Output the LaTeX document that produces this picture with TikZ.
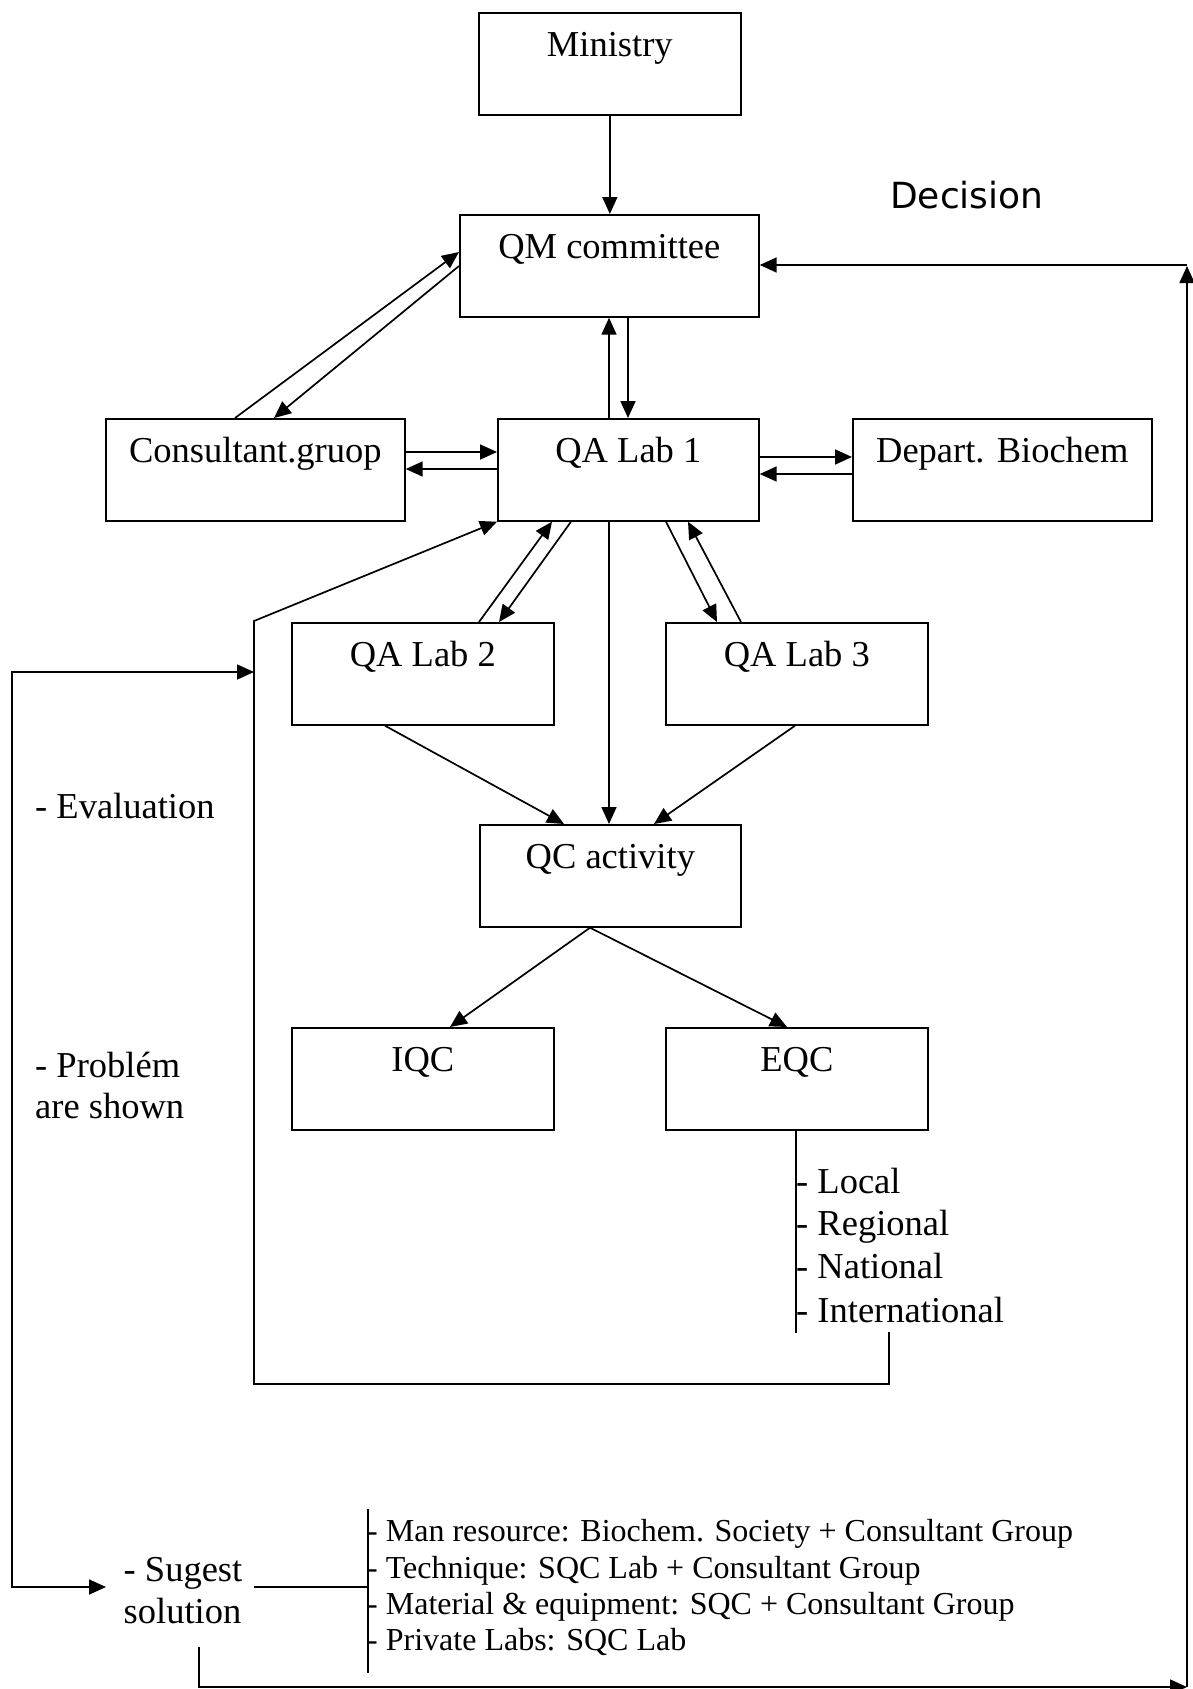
\documentclass[tikz,border=0pt]{standalone}
\usepackage{fontspec}
\setmainfont{Liberation Serif}
\newfontfamily\dejavu{DejaVu Sans}
\usetikzlibrary{arrows.meta,calc}
\begin{document}
\begin{tikzpicture}[x=1pt,y=-1pt,
  every node/.style={font=\fontsize{36.5}{43}\selectfont},
  bx/.style={draw, line width=1.7pt, anchor=north west, minimum width=#1,
    inner xsep=0pt, inner ysep=0pt, text height=44pt, text depth=58pt},
  arr/.style={line width=1.7pt, -{Triangle[length=17pt,width=15pt]}},
  arrb/.style={line width=1.7pt, {Triangle[length=17pt,width=15pt]}-{Triangle[length=17pt,width=15pt]}},
  ln/.style={line width=1.7pt},
  txt/.style={anchor=base west, inner sep=0pt},
  small/.style={font=\fontsize{32}{38}\selectfont}]
\useasboundingbox (0,0) rectangle (1192,1689);

% boxes
\node[bx=262pt] (min)  at (478,12)   {Ministry};
\node[bx=299pt] (qm)   at (459,214)  {QM committee};
\node[bx=299pt] (cons) at (105,418)  {Consultant.gruop};
\node[bx=261pt] (qa1)  at (497,418)  {QA Lab 1};
\node[bx=299pt] (dep)  at (852,418)  {Depart. Biochem};
\node[bx=262pt] (qa2)  at (291,622)  {QA Lab 2};
\node[bx=262pt] (qa3)  at (665,622)  {QA Lab 3};
\node[bx=261pt] (qc)   at (479,824)  {QC activity};
\node[bx=262pt] (iqc)  at (291,1027) {IQC};
\node[bx=262pt] (eqc)  at (665,1027) {EQC};

% free texts
\node[txt, font=\dejavu\fontsize{36}{43}\selectfont] (dec) at (890,208) {Decision};
\node[txt] (ev)  at (35,818)  {- Evaluation};
\node[txt] (pr1) at (35,1077) {- Problém};
\node[txt] (pr2) at (35,1118) {are shown};
\node[txt] (lv1) at (796,1193) {- Local};
\node[txt] (lv2) at (796,1235) {- Regional};
\node[txt] (lv3) at (796,1278) {- National};
\node[txt] (lv4) at (796,1322) {- International};
\node[txt] (sg1) at (123.5,1581) {- Sugest};
\node[txt] (sg2) at (123.5,1623) {solution};
\node[txt, small] (it1) at (367,1541) {- Man resource: Biochem. Society + Consultant Group};
\node[txt, small] (it2) at (367,1578) {- Technique: SQC Lab + Consultant Group};
\node[txt, small] (it3) at (367,1614) {- Material \& equipment: SQC + Consultant Group};
\node[txt, small] (it4) at (367,1650.5) {- Private Labs: SQC Lab};

% coordinates for free ends
\coordinate (eqT)  at (796,1333);
\coordinate (lpA)  at (889,1332);
\coordinate (lpA2) at (889,1384);
\coordinate (lpA3) at (254,1384);
\coordinate (lpB)  at (254,621);
\coordinate (lpC)  at (254,672);
\coordinate (olA)  at (11.7,672);
\coordinate (olB)  at (11.7,1587);
\coordinate (sugin) at (106,1587);
\coordinate (sgR)  at (254,1587);
\coordinate (brM)  at (368,1587);
\coordinate (brT)  at (368,1509);
\coordinate (brB)  at (368,1673);
\coordinate (solB) at (199,1647);
\coordinate (brc)  at (1187,1687);
\coordinate (trc)  at (1187,266);
\coordinate (trh)  at (1187,265);

% connectors
\draw[arr] (min.south) -- (min.south |- qm.north);
\draw[arr] ($(qa1.north west)+(112,0)$) -- ($(qm.south west)+(150,0)$);
\draw[arr] ($(qm.south west)+(169,0)$) -- ($(qa1.north west)+(131,0)$);
\draw[arr] ($(cons.north west)+(130,0)$) -- ($(qm.north west)+(0,38)$);
\draw[arr] ($(qm.north west)+(0,52)$) -- ($(cons.north west)+(169,0)$);
\draw[arr] ($(cons.north east)+(0,34)$) -- ($(qa1.north west)+(0,34)$);
\draw[arr] ($(qa1.north west)+(0,51)$) -- ($(cons.north east)+(0,51)$);
\draw[arr] ($(qa1.north east)+(0,39)$) -- ($(dep.north west)+(0,39)$);
\draw[arr] ($(dep.north west)+(0,56)$) -- ($(qa1.north east)+(0,56)$);
\draw[arr] ($(qa2.north west)+(188,0)$) -- ($(qa1.south west)+(55,0)$);
\draw[arr] ($(qa1.south west)+(74,0)$) -- ($(qa2.north west)+(208,0)$);
\draw[arr] ($(qa1.south west)+(169,0)$) -- ($(qa3.north west)+(52,0)$);
\draw[arr] ($(qa3.north west)+(76,0)$) -- ($(qa1.south west)+(191,0)$);
\draw[arr] ($(qa1.south west)+(112,0)$) -- ($(qc.north west)+(130,0)$);
\draw[arr] ($(qa2.south west)+(94,0)$) -- ($(qc.north west)+(85,0)$);
\draw[arr] ($(qa3.south west)+(130,0)$) -- ($(qc.north west)+(175,0)$);
\draw[arr] ($(qc.south west)+(111,0)$) -- ($(iqc.north west)+(159,0)$);
\draw[arr] ($(qc.south west)+(111,0)$) -- ($(eqc.north west)+(122,0)$);
\draw[ln] ($(eqc.south west)+(131,0)$) -- (eqT);
\draw[arr] (lpA) -- (lpA2) -- (lpA3) -- (lpB) -- (qa1.south west);
\draw[arrb] (lpC) -- (olA) -- (olB) -- (sugin);
\draw[ln] (sgR) -- (brM);
\draw[ln] (brT) -- (brB);
\draw[arr] (solB) |- (brc);
\draw[arr] (brc) -- (trc);
\draw[arr] (trh) -- ($(qm.north east)+(0,51)$);
\end{tikzpicture}
\end{document}
